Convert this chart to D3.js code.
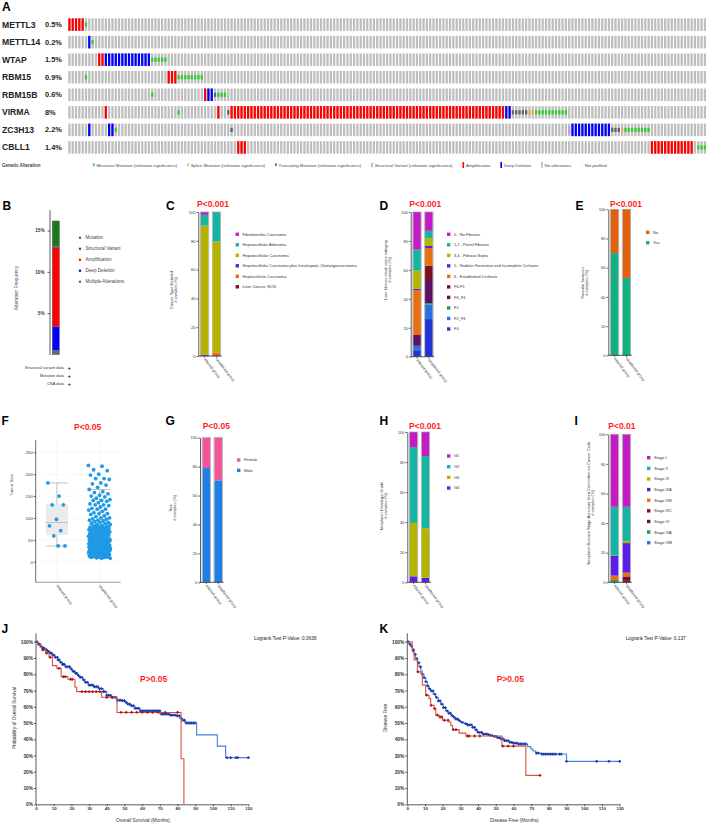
<!DOCTYPE html>
<html>
<head>
<meta charset="utf-8">
<script src="https://cdnjs.cloudflare.com/ajax/libs/d3/7.8.5/d3.min.js"></script>
<style>
body { margin: 0; background: #fff; }
svg { display: block; font-family: "Liberation Sans", Arial, sans-serif; }
.panel { font-weight: bold; font-size: 12px; fill: #000; }
.pval { fill: #ff1f1f; font-weight: bold; font-size: 8.5px; }
.tiny { font-size: 4px; fill: #333; }
.axis path, .axis line { stroke: #333; stroke-width: 0.8; }
.axis text { font-size: 4px; fill: #333; font-family: "Liberation Sans", Arial, sans-serif; }
.km text { font-size: 4.8px; font-weight: bold; }
</style>
</head>
<body>
<svg id="fig" width="708" height="825"></svg>
<script>
// ---------- data ----------
var genes = ["METTL3", "METTL14", "WTAP", "RBM15", "RBM15B", "VIRMA", "ZC3H13", "CBLL1"];
var genePct = ["0.5%", "0.2%", "1.5%", "0.9%", "0.6%", "8%", "2.2%", "1.4%"];
var nSamples = 193;
// [first sample, number of samples, alteration type]
var geneAlts = [
  [[0, 5, "amp"], [5, 1, "mis"]],
  [[6, 1, "del"], [7, 1, "mis"]],
  [[9, 2, "amp"], [11, 14, "del"], [25, 5, "mis"]],
  [[5, 1, "mis"], [30, 3, "amp"], [33, 8, "mis"]],
  [[25, 1, "mis"], [41, 1, "amp"], [42, 2, "del"], [44, 1, "trunc"], [45, 3, "mis"]],
  [[11, 1, "amp"], [33, 1, "mis"], [45, 1, "amp"], [48, 1, "trunc"], [49, 83, "amp"], [132, 2, "del"], [134, 5, "trunc"], [139, 2, "splice"], [141, 10, "mis"]],
  [[6, 1, "del"], [12, 2, "del"], [14, 1, "mis"], [49, 1, "trunc"], [151, 1, "sv"], [152, 12, "del"], [164, 3, "trunc"], [167, 1, "splice"], [168, 8, "mis"]],
  [[51, 3, "amp"], [176, 13, "amp"], [190, 3, "mis"]]
];
var altLegend = ["Missense Mutation (unknown significance)", "Splice Mutation (unknown significance)",
  "Truncating Mutation (unknown significance)", "Structural Variant (unknown significance)",
  "Amplification", "Deep Deletion", "No alterations", "Not profiled"];
var altLegendType = ["mis", "splice", "trunc", "sv", "amp", "del", "none", "np"];

var freqCats = ["Mutation", "Structural Variant", "Amplification", "Deep Deletion", "Multiple Alterations"];
var freqValues = [3.1, 0.15, 9.5, 2.9, 0.5];
var profiledData = ["Structural variant data", "Mutation data", "CNA data"];

var groups = ["Altered group", "Unaltered group"];

var cancerTypes = ["Fibrolamellar Carcinoma", "Hepatocellular Adenoma", "Hepatocellular Carcinoma",
  "Hepatocellular Carcinoma plus Intrahepatic Cholangiocarcinoma", "Heptacellular Carcinoma", "Liver Cancer, NOS"];
var cancerAltered = [2, 7.5, 89.5, 1, 0, 0];
var cancerUnaltered = [0, 20.5, 77, 0, 2, 0.5];

var fibrosisCats = ["0 - No Fibrosis", "1,2 - Portal Fibrosis", "3,4 - Fibrous Septa",
  "5 - Nodular Formation and Incomplete Cirrhosis", "6 - Established Cirrhosis",
  "F6-F1", "F6_F1", "F2", "F2_F3", "F4"];
var fibrosisAltered = [26, 14.5, 12.5, 1, 31, 0, 7.5, 0, 3, 4.5];
var fibrosisUnaltered = [13, 5, 5.5, 1.5, 12, 10, 16, 1, 10, 26];

var invasionCats = ["No", "Yes"];
var invasionAltered = [30, 70];
var invasionUnaltered = [47, 53];

var sexCats = ["Female", "Male"];
var sexAltered = [21, 79];
var sexUnaltered = [29.5, 70.5];

var gradeCats = ["G1", "G2", "G3", "G4"];
var gradeAltered = [10, 50.5, 35.5, 4];
var gradeUnaltered = [16, 48, 33, 3];

var stageCats = ["Stage I", "Stage II", "Stage III", "Stage IIIA", "Stage IIIB", "Stage IIIC", "Stage IV", "Stage IVA", "Stage IVB"];
var stageAltered = [49, 33, 0, 13.5, 3, 0, 0, 1.5, 0];
var stageUnaltered = [49, 23, 1.5, 20, 2.5, 3, 1, 0, 0];

var sizeTicks = [0, 50, 100, 150, 200, 250];
var sizeAltered = [180, 150, 130, 130, 97, 82, 71, 59, 36, 36];
var sizeUnaltered = [220, 218, 210, 208, 200, 198, 190, 190, 188, 180, 178, 175, 170, 165, 160, 158, 155, 152, 150, 148,
  145, 142, 140, 140, 138, 135, 132, 130, 130, 128, 125, 122, 120, 120, 118, 115, 112, 110, 110, 108, 105, 103, 100, 100,
  98, 97, 95, 95, 93, 92, 90, 90, 88, 87, 85, 85, 83, 82, 81,
  80, 79, 78, 78, 77, 76, 75, 75, 74, 73, 72, 72, 71, 70, 70, 70, 69, 68, 67, 66, 65, 65, 64, 63, 62, 61, 60, 60, 60, 59,
  58, 57, 56, 55, 55, 54, 53, 52, 52, 51, 51, 50, 50, 50, 50, 50, 50, 50, 50, 50, 50,
  49, 49, 48, 48, 47, 46, 45, 45, 45, 44, 43, 42, 42, 41, 40, 40, 40, 40, 39, 38, 38, 37, 36, 35, 35, 35, 35, 34, 33, 32,
  32, 31, 30, 30, 30, 30, 30, 30, 45, 45, 40, 40, 48, 35, 42, 38, 47, 33, 36, 44, 41, 39, 37, 43, 46,
  29, 28, 28, 27, 26, 25, 25, 25, 24, 23, 22, 22, 21, 20, 20, 20, 20, 19, 18, 18, 17, 16, 15, 15, 15, 14, 13, 12, 12, 11,
  10, 10, 10, 9, 8, 8, 25, 20, 15, 28, 22, 18, 26, 24, 27, 21, 19, 23, 17, 16, 14, 13, 12, 11, 20, 25, 30];

// Kaplan-Meier steps [months, % surviving] and censor times
var osAltered = [[0, 100], [1, 98], [3.2, 95], [5.5, 93], [7.4, 90.4], [9.3, 85.3], [11.8, 83.6], [14.2, 78.5], [18, 76.9],
  [22, 72], [23, 69.3], [37.1, 65.8], [45.8, 56.5], [82, 28], [83.6, 0]];
var osAlteredCens = [4, 6, 8, 13, 15.5, 16.5, 19.5, 20.5, 26, 28, 30, 32, 34, 36, 40, 43, 48, 51, 54, 57, 60, 63, 66, 69, 73, 80];
var osUnaltered = [[0, 100], [1, 98.5], [2.3, 97], [3.7, 96], [5.1, 95], [6.5, 94], [7.9, 93], [9.3, 91.7], [10.8, 90.4],
  [12.2, 88.8], [13.6, 87.3], [15, 86], [16.4, 84.6], [19.2, 83.2], [20.6, 81.8], [22, 80.5], [23.5, 79.2], [24.9, 78],
  [26.3, 76.5], [27.7, 75], [29.6, 73.3], [32.4, 72.3], [35.2, 71.2], [38, 69.3], [40, 67], [42.8, 65.8], [45.6, 64],
  [48.4, 63.7], [50.3, 62.6], [51.7, 61.6], [53.1, 60.6], [55.9, 59], [58.8, 57.5], [70.1, 55.5], [75.8, 54.8],
  [79.5, 54.4], [81.4, 52.8], [82.9, 51.7], [84.2, 50], [90.8, 42.7], [102.5, 35.8], [107.2, 28.7], [120.6, 28.7]];
var osUnalteredCens = [0.5, 1.5, 2, 3, 4, 4.5, 5.5, 6, 7, 8, 8.5, 9.5, 10, 11, 12, 12.5, 13, 14, 15, 15.5, 16, 17, 18, 19,
  20, 21, 21.5, 22.5, 23, 24, 25, 26, 27, 28, 29, 30, 31, 32, 33, 34, 35, 36, 37, 38, 39, 40, 41, 42, 43, 44, 45, 46, 47,
  48, 49, 50, 51, 52, 53, 54, 55, 56, 57, 58, 59, 60, 61, 62, 63, 64, 65, 66, 67, 68, 69, 70, 71, 72, 73, 74, 75, 76,
  77, 78, 79, 80, 81, 82, 83, 84, 85, 86, 87, 88, 89, 90, 108, 110, 113, 114, 120];

var dfsAltered = [[0, 100], [2.8, 93.9], [3.8, 88.7], [5.7, 81.5], [7.6, 80.5], [8.5, 73.3], [10.4, 67.1], [12.3, 65],
  [13.2, 60.9], [15.1, 58.9], [16.1, 54.8], [18, 53.7], [19.9, 51.7], [23.6, 50.6], [24.6, 48.5], [25.6, 45.9],
  [29.3, 43.8], [33.1, 42], [53.5, 35.8], [67, 17.8], [75.1, 17.8]];
var dfsAlteredCens = [6, 11, 13.5, 15.5, 17, 18.5, 19.5, 21, 23, 26, 27.5, 34, 35, 38, 41, 54, 57, 60, 75];
var dfsUnaltered = [[0, 100], [1, 98.5], [1.9, 97.3], [2.8, 95], [3.8, 92.2], [4.7, 89.5], [5.7, 87.1], [6.6, 84.5],
  [7.6, 82], [8.5, 80], [9.4, 77.9], [10.4, 75.5], [11.3, 72.8], [12.3, 71.2], [13.2, 69.8], [14.6, 67.8], [16.1, 65.7],
  [17.5, 63.6], [18.9, 61.6], [20.3, 59.5], [21.7, 57.5], [23.1, 56], [24.6, 54.5], [26, 53.4], [27.4, 52.4],
  [28.8, 51.4], [30.2, 50.4], [32, 49.6], [34, 48.9], [36.8, 47.3], [38.2, 45.8], [39.6, 44.2], [42.5, 43.2],
  [45.3, 42.8], [47, 42.3], [49, 41.8], [51, 41], [52.8, 40.2], [55, 39.2], [57.5, 38.1], [60, 37.6], [62.2, 37.1],
  [68, 35.5], [69.8, 34], [71, 32.8], [72.6, 31.5], [75.5, 30.9], [90, 26.4], [120.6, 26.4]];
var dfsUnalteredCens = [0.5, 1.5, 2.5, 3.5, 4.5, 5.5, 6.5, 7.5, 8.5, 9.5, 10.5, 11.5, 12.5, 13.5, 14.5, 15.5, 16.5, 17.5,
  18.5, 19.5, 20.5, 21.5, 22.5, 23.5, 24.5, 25.5, 26.5, 27.5, 28.5, 29.5, 31, 33, 34, 35, 36, 37, 38, 39, 40, 41, 42, 43,
  44, 45, 46, 47, 48, 49, 50, 51, 52, 53, 54, 55, 56, 57, 58, 59, 60, 61, 62, 63, 64, 65, 66, 67, 73, 74, 76, 77, 78,
  79, 80, 81, 82, 83, 84, 86, 87, 90, 107, 114, 120];

// ---------- drawing ----------
var svg = d3.select("#fig");
svg.append("rect").attr("width", 708).attr("height", 825).attr("fill", "#fff");

function panelLetter(t, x, y) {
  svg.append("text").attr("class", "panel").attr("x", x).attr("y", y).text(t);
}
function pText(t, x, y) {
  svg.append("text").attr("class", "pval").attr("x", x).attr("y", y).text(t);
}

// ===== A: oncoprint =====
panelLetter("A", 2, 10.5);
var altColor = { amp: "#ff0000", del: "#0000ff", mis: "#33cc33", trunc: "#56656e", splice: "#f2a55c", sv: "#c699e6", none: "#bebebe" };
var sx = d3.scaleBand().domain(d3.range(nSamples)).range([68.3, 706]).paddingInner(0.32);
var ry = d3.scaleBand().domain(genes).range([18.3, 153.7]).paddingInner(0.285);
var oncoG = svg.append("g");
genes.forEach(function (gene, gi) {
  var y0 = ry(gene), h = ry.bandwidth();
  oncoG.append("text").attr("x", 2).attr("y", y0 + h / 2 + 3).style("font-size", "8.6px")
    .style("font-weight", "bold").attr("fill", "#222").text(gene);
  oncoG.append("text").attr("x", 45).attr("y", y0 + h / 2 + 2.6).style("font-size", "7.4px")
    .style("font-weight", "bold").attr("fill", "#222").text(genePct[gi]);
  oncoG.selectAll(null).data(d3.range(nSamples)).enter().append("rect")
    .attr("x", function (d) { return sx(d); }).attr("y", y0)
    .attr("width", sx.bandwidth()).attr("height", h).attr("fill", altColor.none);
  var cells = [];
  geneAlts[gi].forEach(function (a) {
    for (var k = 0; k < a[1]; k++) cells.push({ i: a[0] + k, t: a[2] });
  });
  oncoG.selectAll(null).data(cells).enter().append("rect")
    .attr("x", function (d) { return sx(d.i); })
    .attr("width", sx.bandwidth())
    .attr("y", function (d) {
      if (d.t === "amp" || d.t === "del") return y0;
      if (d.t === "sv") return y0 + h * 0.2;
      return y0 + h / 3;
    })
    .attr("height", function (d) {
      if (d.t === "amp" || d.t === "del") return h;
      if (d.t === "sv") return h * 0.6;
      return h / 3;
    })
    .attr("fill", function (d) { return altColor[d.t]; });
});
// legend
oncoG.append("text").attr("x", 2).attr("y", 166.5).style("font-size", "4.5px").style("font-weight", "bold")
  .attr("fill", "#444").text("Genetic Alteration");
var lx = 93;
altLegend.forEach(function (name, i) {
  var t = altLegendType[i];
  if (t === "np") {
    oncoG.append("rect").attr("x", lx).attr("y", 164.6).attr("width", 1.4).attr("height", 0.6).attr("fill", "#bbb");
  } else {
    var full = (t === "amp" || t === "del" || t === "none");
    oncoG.append("rect").attr("x", lx).attr("y", full ? 162 : (t === "sv" ? 162.6 : 163.3))
      .attr("width", 1.6).attr("height", full ? 6 : (t === "sv" ? 4.6 : 2.8)).attr("fill", altColor[t]);
  }
  var tx = oncoG.append("text").attr("x", lx + 3.5).attr("y", 166.5).style("font-size", "4.3px")
    .attr("fill", "#444").text(name);
  lx += 3.5 + tx.node().getComputedTextLength() + 10;
});

// ===== B: alteration frequency =====
panelLetter("B", 2.5, 209.5);
var bColors = ["#1a7a1a", "#6b2fa3", "#ff0000", "#0000ff", "#666666"];
var by = d3.scaleLinear().domain([0, 15]).range([354.5, 230.5]);
var bG = svg.append("g");
bG.append("g").attr("class", "axis").attr("transform", "translate(50,0)")
  .call(d3.axisLeft(by).tickValues([5, 10, 15]).tickFormat(function (d) { return d + "%"; }).tickSize(2.5).tickSizeOuter(0))
  .call(function (g) { g.select(".domain").remove(); })
  .selectAll("text").style("font-size", "4.6px").style("font-weight", "bold");
bG.append("line").attr("x1", 50).attr("x2", 50).attr("y1", 210).attr("y2", 355).attr("stroke", "#333").attr("stroke-width", 0.8);
var bBase = 0;
for (var k = freqValues.length - 1; k >= 0; k--) {
  bG.append("rect").attr("x", 52.3).attr("width", 7).attr("y", by(bBase + freqValues[k]))
    .attr("height", by(bBase) - by(bBase + freqValues[k])).attr("fill", bColors[k]);
  bBase += freqValues[k];
}
bG.append("rect").attr("x", 52.3).attr("width", 7).attr("y", by(bBase)).attr("height", by(0) - by(bBase))
  .attr("fill", "none").attr("stroke", "#555").attr("stroke-width", 0.5);
bG.append("text").attr("transform", "translate(18,288) rotate(-90)").attr("text-anchor", "middle")
  .style("font-size", "4.8px").attr("fill", "#555").text("Alteration Frequency");
freqCats.forEach(function (c, i) {
  var yy = 237.7 + i * 11;
  bG.append("circle").attr("cx", 80).attr("cy", yy).attr("r", 1.2).attr("fill", bColors[i]);
  bG.append("text").attr("x", 85.5).attr("y", yy + 1.6).style("font-size", "4.6px").attr("fill", "#444").text(c);
});
var pdY = [368, 375.5, 384];
profiledData.forEach(function (c, i) {
  bG.append("text").attr("x", 64).attr("y", pdY[i] + 1.4).attr("text-anchor", "end")
    .style("font-size", "4px").attr("fill", "#333").text(c);
  bG.append("text").attr("x", 69.3).attr("y", pdY[i] + 2).attr("text-anchor", "middle")
    .style("font-size", "6px").style("font-weight", "bold").attr("fill", "#222").text("+");
});

// ===== stacked percentage panels =====
function stacked(c) {
  var g = svg.append("g");
  var y = d3.scaleLinear().domain([0, 100]).range([c.y0, c.y100]);
  var x = d3.scaleBand().domain(groups).range([c.ax + 2.5, c.ax + 22]).paddingInner(0.36);
  var color = d3.scaleOrdinal().domain(c.cats).range(c.colors);
  var rows = groups.map(function (gname, gi) {
    var o = { group: gname };
    c.cats.forEach(function (k, ki) { o[k] = (gi ? c.unaltered : c.altered)[ki]; });
    return o;
  });
  var series = d3.stack().keys(c.cats.slice().reverse())(rows);
  series.forEach(function (s) {
    g.selectAll(null).data(s).enter().append("rect")
      .attr("x", function (d) { return x(d.data.group); })
      .attr("width", x.bandwidth())
      .attr("y", function (d) { return y(d[1]); })
      .attr("height", function (d) { return y(d[0]) - y(d[1]); })
      .attr("fill", color(s.key));
  });
  g.selectAll(null).data(groups).enter().append("rect")
    .attr("x", function (d) { return x(d) - 0.4; }).attr("width", x.bandwidth() + 0.8)
    .attr("y", y(100)).attr("height", y(0) - y(100))
    .attr("fill", "none").attr("stroke", "#a0a0a0").attr("stroke-width", 0.7);
  g.append("g").attr("class", "axis").attr("transform", "translate(" + c.ax + ",0)")
    .call(d3.axisLeft(y).tickValues([0, 20, 40, 60, 80, 100]).tickSize(1.8).tickPadding(1).tickSizeOuter(0));
  g.append("line").attr("x1", c.ax).attr("x2", c.ax + 23.5).attr("y1", c.y0).attr("y2", c.y0)
    .attr("stroke", "#333").attr("stroke-width", 0.8);
  groups.forEach(function (gname) {
    var cx = x(gname) + x.bandwidth() / 2;
    g.append("line").attr("x1", cx).attr("x2", cx).attr("y1", c.y0).attr("y2", c.y0 + 1.8)
      .attr("stroke", "#333").attr("stroke-width", 0.7);
    g.append("text").attr("transform", "translate(" + (cx - 1) + "," + (c.y0 + 3.5) + ") rotate(52)")
      .attr("class", "tiny").text(gname);
  });
  c.ytitle.forEach(function (t, i) {
    g.append("text").attr("transform", "translate(" + (c.tx + i * 4.4) + "," + c.ty + ") rotate(-90)")
      .attr("text-anchor", "middle").attr("class", "tiny").text(t);
  });
  c.cats.forEach(function (k, i) {
    var yy = c.legY + i * c.legStep;
    g.append("rect").attr("x", c.legX).attr("y", yy - 1.7).attr("width", 3.4).attr("height", 3.4).attr("fill", color(k));
    g.append("text").attr("x", c.legX + 7).attr("y", yy + 1.4).attr("class", "tiny").text(k);
  });
}

var pal = {
  magenta: "#c41bc6", teal: "#16b5a3", olive: "#b3b300", violet: "#5a1fe6", orange: "#ea700f",
  maroon: "#7a0f1f", plum: "#5b1166", green: "#17a05a", blue: "#2a72e0", navy: "#2233d6"
};

panelLetter("C", 166, 209.5);
pText("P<0.001", 197, 207.3);
stacked({ cats: cancerTypes, altered: cancerAltered, unaltered: cancerUnaltered,
  colors: [pal.magenta, pal.teal, pal.olive, pal.violet, pal.orange, pal.maroon],
  ax: 198.3, y0: 356, y100: 212, legX: 235.6, legY: 234.3, legStep: 10.5,
  ytitle: ["Cancer Type Detailed", "# samples (%)"], tx: 172.5, ty: 290 });

panelLetter("D", 379.5, 209.5);
pText("P<0.001", 409.3, 206.7);
stacked({ cats: fibrosisCats, altered: fibrosisAltered, unaltered: fibrosisUnaltered,
  colors: [pal.magenta, pal.teal, pal.olive, pal.violet, pal.orange, pal.maroon, pal.plum, pal.green, pal.blue, pal.navy],
  ax: 410.7, y0: 356.7, y100: 212, legX: 447, legY: 234.3, legStep: 10.52,
  ytitle: ["Liver fibrosis ishak score category", "# samples (%)"], tx: 386.5, ty: 270 });

panelLetter("E", 575.5, 209.5);
pText("P<0.001", 610, 206.7);
stacked({ cats: invasionCats, altered: invasionAltered, unaltered: invasionUnaltered,
  colors: ["#e0600c", "#12b182"],
  ax: 608.3, y0: 355.3, y100: 209.3, legX: 646, legY: 232.3, legStep: 10.4,
  ytitle: ["Vascular Invasion", "# samples (%)"], tx: 584, ty: 283 });

panelLetter("G", 165.5, 425);
pText("P<0.05", 202.7, 429.3);
stacked({ cats: sexCats, altered: sexAltered, unaltered: sexUnaltered,
  colors: ["#f2559a", "#1f80e6"],
  ax: 200, y0: 582.3, y100: 437.7, legX: 237, legY: 460, legStep: 10.3,
  ytitle: ["Sex", "# samples (%)"], tx: 172, ty: 508 });

panelLetter("H", 379.5, 424.5);
pText("P<0.001", 409, 429.3);
stacked({ cats: gradeCats, altered: gradeAltered, unaltered: gradeUnaltered,
  colors: [pal.magenta, pal.teal, pal.olive, pal.violet],
  ax: 407.3, y0: 582.3, y100: 432, legX: 447, legY: 456, legStep: 10.67,
  ytitle: ["Neoplasm Histologic Grade", "# samples (%)"], tx: 383, ty: 506 });

panelLetter("I", 574.5, 424.5);
pText("P<0.01", 608.3, 429.3);
stacked({ cats: stageCats, altered: stageAltered, unaltered: stageUnaltered,
  colors: [pal.magenta, pal.teal, pal.olive, pal.violet, pal.orange, pal.maroon, pal.plum, pal.green, pal.blue],
  ax: 608.3, y0: 582.3, y100: 434.3, legX: 647, legY: 457.7, legStep: 10.63,
  ytitle: ["Neoplasm Disease Stage American Joint Committee on Cancer Code", "# samples (%)"], tx: 589.5, ty: 503 });

// ===== F: tumor size =====
panelLetter("F", 1.5, 425);
pText("P<0.05", 74, 430);
var fG = svg.append("g");
var fy = d3.scaleLinear().domain([-47, 278]).range([582.3, 440]);
var fx = d3.scaleBand().domain(groups).range([35.7, 120.7]);
fG.selectAll(null).data(sizeTicks).enter().append("line")
  .attr("x1", 35.7).attr("x2", 120.7).attr("y1", function (d) { return fy(d); }).attr("y2", function (d) { return fy(d); })
  .attr("stroke", "#d3e3ee").attr("stroke-width", 0.5).attr("stroke-dasharray", "1.5,1.5");
fG.selectAll(null).data(groups).enter().append("line")
  .attr("x1", function (d) { return fx(d) + fx.bandwidth() / 2; }).attr("x2", function (d) { return fx(d) + fx.bandwidth() / 2; })
  .attr("y1", 440).attr("y2", 582.3)
  .attr("stroke", "#d3e3ee").attr("stroke-width", 0.5).attr("stroke-dasharray", "1.5,1.5");
fG.append("g").attr("class", "axis").attr("transform", "translate(35.7,0)")
  .call(d3.axisLeft(fy).tickValues(sizeTicks).tickSize(1.8).tickPadding(1).tickSizeOuter(0))
  .call(function (g) { g.select(".domain").remove(); })
  .selectAll("text").style("font-size", "4.4px");
fG.append("line").attr("x1", 35.7).attr("x2", 35.7).attr("y1", 440).attr("y2", 582.3).attr("stroke", "#444").attr("stroke-width", 0.8);
fG.append("line").attr("x1", 35.7).attr("x2", 120.7).attr("y1", 582.3).attr("y2", 582.3).attr("stroke", "#888").attr("stroke-width", 0.8);
[sizeAltered, sizeUnaltered].forEach(function (vals, gi) {
  var s = vals.slice().sort(d3.ascending);
  var q1 = d3.quantile(s, 0.25), med = d3.quantile(s, 0.5), q3 = d3.quantile(s, 0.75), iqr = q3 - q1;
  var lo = d3.min(s.filter(function (v) { return v >= q1 - 1.5 * iqr; }));
  var hi = d3.max(s.filter(function (v) { return v <= q3 + 1.5 * iqr; }));
  var cx = fx(groups[gi]) + fx.bandwidth() / 2, hw = 10.8;
  fG.append("line").attr("x1", cx).attr("x2", cx).attr("y1", fy(lo)).attr("y2", fy(hi)).attr("stroke", "#aaa").attr("stroke-width", 0.7);
  fG.append("rect").attr("x", cx - hw).attr("width", 2 * hw).attr("y", fy(q3)).attr("height", fy(q1) - fy(q3))
    .attr("fill", "#ebebeb").attr("stroke", "#e0e0e0").attr("stroke-width", 0.5);
  [lo, med, hi].forEach(function (v) {
    fG.append("line").attr("x1", cx - hw).attr("x2", cx + hw).attr("y1", fy(v)).attr("y2", fy(v))
      .attr("stroke", "#aaa").attr("stroke-width", 0.7);
  });
  fG.selectAll(null).data(vals).enter().append("circle")
    .attr("cx", function (d, i) { return cx + (((i * 0.618034) % 1) - 0.5) * (gi ? 22 : 18); })
    .attr("cy", function (d) { return fy(d); })
    .attr("r", 1.9).attr("fill", "#1e9ae6");
  fG.append("text").attr("transform", "translate(" + (cx - 1) + "," + 586 + ") rotate(52)")
    .attr("class", "tiny").text(groups[gi]);
});
fG.append("text").attr("transform", "translate(12.5,485) rotate(-90)").attr("text-anchor", "middle")
  .style("font-size", "4.4px").attr("fill", "#444").text("Tumor Size");

// ===== J, K: Kaplan-Meier =====
function stepAt(curve, t) {
  var s = curve[0][1];
  curve.forEach(function (p) { if (p[0] <= t) s = p[1]; });
  return s;
}
function kmPanel(c) {
  var g = svg.append("g").attr("class", "km");
  var x = d3.scaleLinear().domain([0, 120]).range([c.x0, c.x0 + 212.3]);
  var y = d3.scaleLinear().domain([0, 100]).range([804.3, 641.7]);
  g.append("g").attr("class", "axis").attr("transform", "translate(0,804.3)")
    .call(d3.axisBottom(x).tickValues(d3.range(0, 121, 10)).tickSize(2).tickPadding(1).tickSizeOuter(0))
    .selectAll("text").style("font-size", "4.4px");
  g.append("g").attr("class", "axis").attr("transform", "translate(" + c.x0 + ",0)")
    .call(d3.axisLeft(y).tickValues(d3.range(0, 101, 10)).tickFormat(function (d) { return d + "%"; })
      .tickSize(2).tickPadding(1).tickSizeOuter(0))
    .call(function (a) { a.select(".domain").remove(); });
  g.append("line").attr("x1", c.x0).attr("x2", c.x0).attr("y1", 633.3).attr("y2", 804.3).attr("stroke", "#333").attr("stroke-width", 0.8);
  var line = d3.line().x(function (d) { return x(d[0]); }).y(function (d) { return y(d[1]); }).curve(d3.curveStepAfter);
  c.curves.forEach(function (cv) {
    g.append("path").attr("d", line(cv.pts)).attr("fill", "none").attr("stroke", cv.line).attr("stroke-width", 1.1);
    g.selectAll(null).data(cv.cens).enter().append("path")
      .attr("d", function (t) {
        var px = x(t), py = y(stepAt(cv.pts, t));
        return "M" + (px - 1.4) + "," + py + "H" + (px + 1.4) + "M" + px + "," + (py - 1.4) + "V" + (py + 1.4);
      })
      .attr("stroke", cv.mark).attr("stroke-width", 1.2);
  });
  g.append("text").attr("x", c.x0 + 107).attr("y", 822).attr("text-anchor", "middle")
    .style("font-weight", "normal").attr("fill", "#333").text(c.xtitle);
  g.append("text").attr("transform", "translate(" + (c.x0 - 20.5) + ",718) rotate(-90)").attr("text-anchor", "middle")
    .style("font-weight", "normal").attr("fill", "#333").text(c.ytitle);
  g.append("text").attr("x", c.lrx).attr("y", 640).style("font-weight", "normal").attr("fill", "#222").text(c.logrank);
}

panelLetter("J", 1.5, 632.5);
kmPanel({ x0: 36, xtitle: "Overall Survival (Months)", ytitle: "Probability of Overall Survival",
  lrx: 254, logrank: "Logrank Test P-Value: 0.0636",
  curves: [
    { pts: osUnaltered, cens: osUnalteredCens, line: "#4a7fe0", mark: "#1a3aa8" },
    { pts: osAltered, cens: osAlteredCens, line: "#d9523f", mark: "#a81515" }
  ] });
pText("P>0.05", 140, 681.7);

panelLetter("K", 379.5, 632.5);
kmPanel({ x0: 407.3, xtitle: "Disease Free (Months)", ytitle: "Disease Free",
  lrx: 625.7, logrank: "Logrank Test P-Value: 0.137",
  curves: [
    { pts: dfsUnaltered, cens: dfsUnalteredCens, line: "#4a7fe0", mark: "#1a3aa8" },
    { pts: dfsAltered, cens: dfsAlteredCens, line: "#d9523f", mark: "#a81515" }
  ] });
pText("P>0.05", 496.7, 681.7);
</script>
</body>
</html>
